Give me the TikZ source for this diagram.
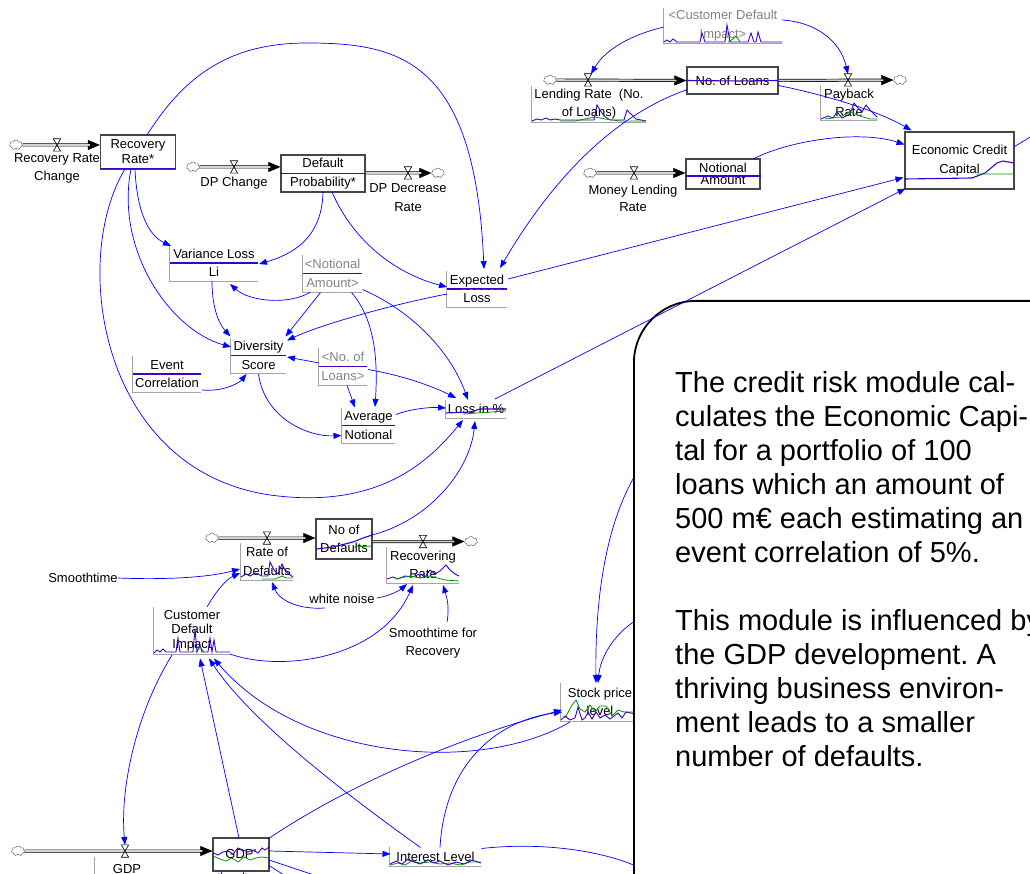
\documentclass[tikz,border=0pt]{standalone}
\usepackage{fontspec}
\setmainfont{Liberation Sans}
\usetikzlibrary{arrows.meta,calc,shapes.symbols}
\definecolor{lk}{RGB}{0,0,255}
\definecolor{gp}{RGB}{60,0,200}
\definecolor{gg}{RGB}{0,150,0}
\definecolor{fr}{RGB}{165,165,165}
\definecolor{sb}{RGB}{70,70,70}
\definecolor{shd}{RGB}{130,130,130}
\frenchspacing
\newcommand\auxv[7][]{%
  \node[auxn,minimum width=#5pt,minimum height=#6pt,#1] (#2) at (#3,#4) {#7};
  \draw[frm] (#2.north west)--(#2.south west)--(#2.south east);}
\newcommand\valv[3]{%
  \node[inner sep=0pt,minimum width=7pt,minimum height=12pt] (#1) at (#2,#3) {};
  \draw[line width=0.6pt] (#1.north west)--(#1.north east)--(#1.south west)--(#1.south east)--cycle;}
\newcommand\pipeto[2]{%
  \draw[line width=0.6pt,-{Triangle[length=12pt,width=10pt]}] (#1) -- (#2);
  \draw[pipeln,shorten >=10pt] (#1) -- (#2);}
\begin{document}
\begin{tikzpicture}[x=1pt,y=-1pt,font=\fontsize{13}{18.5}\selectfont,
 lnk/.style={draw=lk,line width=0.7pt,-{Triangle[length=8pt,width=6pt]}},
 stk/.style={draw=sb,line width=1.3pt,fill=white,inner sep=0pt,align=center},
 auxn/.style={inner sep=0pt,align=center},
 frm/.style={draw=fr,line width=1.2pt},
 gpl/.style={draw=gp,line width=1.1pt},
 ggl/.style={draw=gg,line width=0.8pt},
 pipeln/.style={draw=black,line width=0.7pt,double=gray!35,double distance=1.6pt},
 cloudn/.style={cloud,cloud puffs=7,draw=black!70,fill=white,inner sep=0pt,minimum width=13pt,minimum height=10pt},
 lbl/.style={inner sep=0pt,align=center},
 shdw/.style={text=shd},
 notetxt/.style={anchor=base west,inner sep=0pt,font=\fontsize{29}{34}\selectfont}]
\useasboundingbox (0,0) rectangle (1030,874);

% ---------- stocks ----------
\node[stk,minimum width=75pt,minimum height=34pt,font=\fontsize{13}{15}\selectfont] (rr) at (138,152) {Recovery\\Rate*};
\node[stk,minimum width=84pt,minimum height=37pt] (dp) at (323,173.5) {Default\\Probability*};
\node[stk,minimum width=91pt,minimum height=27pt] (nl) at (732.5,80.5) {No. of Loans};
\node[stk,minimum width=74pt,minimum height=30pt,font=\fontsize{13}{12}\selectfont] (na) at (723,174) {Notional\\Amount};
\node[stk,minimum width=109pt,minimum height=57pt,font=\fontsize{13}{19}\selectfont] (ecc) at (959.5,160.5) {Economic Credit\\Capital};
\node[stk,minimum width=56pt,minimum height=40pt,font=\fontsize{13}{18}\selectfont] (nd) at (344,539) {No of\\Defaults};
\node[stk,minimum width=56pt,minimum height=33pt] (gdp) at (241,854.5) {GDP'};

% ---------- auxiliaries ----------
\auxv{vl}{214}{263}{88}{36}{Variance Loss\\Li}
\auxv[shdw]{na2}{332.5}{273.5}{59}{37}{<Notional\\Amount>}
\auxv{el}{477}{289}{60}{36}{Expected\\Loss}
\auxv{ds}{258.5}{355.5}{55}{35}{Diversity\\Score}
\auxv{ec}{167}{374}{68}{36}{Event\\Correlation}
\auxv[shdw]{nl2}{343}{366.5}{48}{37}{<No. of\\Loans>}
\auxv{an}{368.5}{425.5}{53}{35}{Average\\Notional}
\auxv{lp}{476}{409}{60}{18}{Loss in \%}
\foreach \n in {vl,na2,el,ds,ec,nl2,an} \draw[gpl] (\n.west)--(\n.east);

\auxv[shdw]{cdi2}{723}{25.5}{118}{35}{<Customer Default\\Impact>}
\auxv{lrl}{589}{104}{114}{36}{Lending Rate\ \ (No.\\of Loans)}
\auxv{prl}{849}{103}{56}{34}{Payback\\Rate}
\auxv{rod}{267}{561.5}{52}{37}{Rate of\\Defaults}
\auxv{rec}{423}{565}{72}{36}{Recovering\\Rate}
\auxv[font=\fontsize{13}{14.5}\selectfont]{cdi}{192}{630.5}{76}{47}{Customer\\Default\\Impact}
\auxv{sp}{600}{702}{79}{38}{Stock price\\level}
\auxv{il}{435.5}{856.5}{91}{19}{Interest Level}
\auxv{gdpl}{127}{869}{64}{24}{GDP}

% ---------- labels ----------
\node[lbl] (lb1) at (57,168.5) {Recovery Rate\\Change};
\node[lbl] (lb2) at (234,183) {DP Change};
\node[lbl] (lb3) at (408,197.5) {DP Decrease\\Rate};
\node[lbl,font=\fontsize{13}{17}\selectfont] (lb4) at (633,198.5) {Money Lending\\Rate};
\node[lbl] (smt) at (83,578) {Smoothtime};
\node[lbl] (wn) at (342,599) {white noise};
\node[lbl] (str) at (433,643) {Smoothtime for\\Recovery};

% ---------- clouds & pipes ----------
\node[cloudn] (c1) at (16,145) {};
\node[cloudn] (c2) at (193,167) {};
\node[cloudn] (c3) at (438,173) {};
\node[cloudn] (c4) at (550,80) {};
\node[cloudn] (c5) at (900,80) {};
\node[cloudn] (c6) at (590,173) {};
\node[cloudn] (c7) at (212,538) {};
\node[cloudn] (c8) at (471,541.5) {};
\node[cloudn] (c9) at (18,851) {};
\pipeto{c1}{$(rr.west)+(0,-7)$}
\pipeto{c2}{$(dp.west)+(0,-6.5)$}
\pipeto{$(dp.east)+(0,-0.5)$}{c3}
\pipeto{c4}{nl.west}
\pipeto{nl.east}{c5}
\pipeto{c6}{$(na.west)+(0,-1)$}
\pipeto{c7}{$(nd.west)+(0,-1)$}
\pipeto{$(nd.east)+(0,2.5)$}{c8}
\pipeto{c9}{$(gdp.west)+(0,-3.5)$}
\valv{v1}{57}{145}
\valv{v2}{234}{167}
\valv{v3}{408}{173}
\valv{v4}{588}{80}
\valv{v5}{848}{80}
\valv{v6}{634}{173}
\valv{v7}{267}{538}
\valv{v8}{423}{541.5}
\valv{v9}{125}{851}

% ---------- graphs inside variables ----------
\draw[gpl] ($(rr.south west)+(1,-1.5)$) -- ($(rr.south east)+(-1,-1.5)$);
\draw[gpl] (dp.west) -- (dp.east);
\draw[gpl] (nl.west) -- (740,81) -- (nl.east);
\draw[gpl] ($(na.west)+(0,2)$) -- ($(na.east)+(0,2)$);
\draw[gpl] (905,179) -- (972,178) -- (985,173) -- (997,163) -- (1003,161) -- (1014,163);
\draw[ggl] (977,177) -- (978,174) -- (1014,174);
\draw[gpl] (316,549) -- (333,547) -- (353,542) -- (363,538) -- (372,535);
\draw[ggl] (353,547) -- (372,546);
\draw[ggl,dash pattern=on 4pt off 3pt] (462,289) -- (505,289);
\draw[gpl] (446,413) -- (470,412) -- (480,409) -- (506,409);
\draw[ggl] (463,414) -- (506,411);
\draw[gpl,line width=0.9pt] (664,42)--(667,40)--(670,42)--(673,39)--(677,42)--(700,42)--(702,33)--(705,42)--(725,42)--(727,25)--(730,42)--(748,42)--(751,33)--(754,42)--(756,42)--(758,32)--(761,42)--(782,42);
\draw[ggl] (728,42)--(733,39)--(736,36)--(740,42);
\draw[gpl,line width=0.9pt] (532,121)--(537,119)--(541,120)--(546,118)--(550,120)--(555,119)--(560,120)--(594,120)--(597,105)--(600,110)--(604,116)--(610,120)--(624,120)--(627,110)--(631,114)--(636,119)--(646,121);
\draw[ggl] (560,121)--(575,121)--(585,119)--(595,117)--(605,119)--(620,121)--(646,121);
\draw[gpl,line width=0.9pt] (821,119)--(828,116)--(833,118)--(837,112)--(842,118)--(850,114)--(854,103)--(858,108)--(862,112)--(866,105)--(870,110)--(877,117);
\draw[ggl] (825,119)--(840,117)--(850,112)--(860,116)--(870,119)--(877,119);
\draw[gpl,line width=0.9pt] (241,577)--(246,574)--(250,576)--(255,573)--(262,576)--(268,576)--(270,562)--(274,570)--(278,574)--(282,564)--(286,572)--(293,577);
\draw[ggl] (262,579)--(275,579)--(282,576)--(286,578)--(293,578);
\draw[gpl,line width=0.9pt] (387,579)--(393,577)--(398,579)--(405,576)--(412,577)--(420,574)--(425,577)--(430,570)--(435,574)--(440,571)--(446,565)--(450,570)--(455,574)--(459,576);
\draw[ggl] (395,579)--(410,576)--(420,578)--(430,576)--(445,580)--(459,581);
\draw[gpl,line width=0.9pt] (154,653)--(157,650)--(160,652)--(163,649)--(166,652)--(176,652)--(178,638)--(180,652)--(193,652)--(195,629)--(197,652)--(200,645)--(202,652)--(208,652)--(210,638)--(212,652)--(214,640)--(216,652)--(230,652);
\draw[ggl] (196,652)--(200,647)--(204,652);
\draw[ggl] (565,718)--(572,705)--(576,700)--(580,709)--(585,712)--(590,705)--(595,712)--(600,706)--(606,706)--(612,716)--(618,710)--(624,712)--(640,712);
\draw[gpl,line width=0.9pt] (561,720)--(565,716)--(570,720)--(575,718)--(578,707)--(582,720)--(585,718)--(588,712)--(592,719)--(596,712)--(600,718)--(605,715)--(610,719)--(618,713)--(622,718)--(626,712)--(640,715);
\draw[ggl] (390,865)--(398,863)--(405,865)--(412,861)--(420,863)--(430,862)--(440,864)--(450,863)--(460,865)--(470,862)--(481,862);
\draw[gpl,line width=0.9pt] (390,864)--(396,861)--(402,864)--(408,859)--(414,862)--(420,864)--(428,860)--(434,863)--(440,861)--(448,865)--(456,862)--(464,864)--(472,860)--(481,863);
\draw[ggl] (213,856)--(220,859)--(226,861)--(232,858)--(238,862)--(244,857)--(250,860)--(256,858)--(262,857)--(269,858);
\draw[gpl,line width=0.9pt] (213,853)--(218,855)--(223,852)--(228,851)--(233,854)--(238,848)--(243,850)--(248,852)--(253,850)--(258,853)--(262,848)--(265,850)--(269,847);

% ---------- links ----------
\draw[lnk] ($(rr)+(9,-17)$) .. controls (185,75) and (230,43) .. (307,43) .. controls (400,43) and (475,60) .. ($(el)+(7,-20)$);
\draw[lnk] ($(rr)+(-3,17)$) .. controls (137,215) and (150,236) .. ($(vl)+(-43,-17)$);
\draw[lnk] ($(rr)+(-7,17)$) .. controls (115,250) and (170,330) .. ($(ds)+(-27.5,-8.5)$);
\draw[lnk] ($(rr)+(-13,17)$) .. controls (70,260) and (100,470) .. (270,495) .. controls (380,510) and (430,460) .. ($(lp)+(-13,11)$);
\draw[lnk] ($(dp)+(0,18.5)$) .. controls (322,240) and (290,255) .. ($(vl)+(45,1)$);
\draw[lnk] ($(dp)+(9,18.5)$) .. controls (355,245) and (400,275) .. ($(el)+(-30,-2)$);
\draw[lnk] ($(na2)+(-22,18.5)$) .. controls (290,305) and (250,302) .. ($(vl)+(16,21)$);
\draw[lnk] ($(na2)+(-12,19)$) -- ($(ds)+(27,-19)$);
\draw[lnk] ($(na2)+(19,19)$) .. controls (375,320) and (378,360) .. ($(an)+(6.5,-18.5)$);
\draw[lnk] ($(na2)+(30,16)$) .. controls (410,310) and (450,350) .. ($(lp)+(-8,-9)$);
\draw[lnk] ($(vl)+(-2,18)$) .. controls (212,310) and (220,325) .. ($(ds)+(-28,-19)$);
\draw[lnk] ($(el)+(-30,5)$) .. controls (390,305) and (320,325) .. ($(ds)+(28.5,-15)$);
\draw[lnk] ($(ec)+(35,16)$) .. controls (225,392) and (240,382) .. ($(ds)+(-12,18.5)$);
\draw[lnk] ($(nl2)+(-24,-3.5)$) -- ($(ds)+(28.5,1.5)$);
\draw[lnk] ($(nl2)+(25,3)$) .. controls (400,375) and (430,385) .. ($(lp)+(-20,-11)$);
\draw[lnk] ($(nl2)+(4,19)$) -- ($(an)+(-13.5,-18)$);
\draw[lnk] ($(ds)+(0,18.5)$) .. controls (265,420) and (310,437) .. ($(an)+(-27,10)$);
\draw[lnk] ($(an)+(27.5,-11)$) .. controls (410,409) and (430,407) .. ($(lp)+(-30,-1)$);
\draw[lnk] ($(el)+(31,-10)$) -- ($(ecc)+(-56,17)$);
\draw[lnk] ($(na)+(30,-15)$) .. controls (790,140) and (860,130) .. ($(ecc)+(-55,-16)$);
\draw[lnk] ($(nl)+(46,5)$) .. controls (830,96) and (880,112) .. ($(ecc)+(-48,-30)$);
\draw[lnk] ($(nl)+(-45,9)$) .. controls (600,120) and (540,200) .. ($(el)+(23,-21)$);
\coordinate (off1) at (1045,128);
\draw[lnk] ($(ecc)+(55,-14)$) -- (off1);
\draw[lnk] ($(cdi2)+(-59,1.5)$) .. controls (630,35) and (605,50) .. ($(v4)+(3,-6)$);
\draw[lnk] ($(cdi2)+(59,-5.5)$) .. controls (815,22) and (840,40) .. ($(v5)+(0,-6)$);
\draw[lnk] ($(nd)+(28,-4)$) .. controls (430,520) and (470,470) .. ($(lp)+(-1,12)$);
\draw[lnk] (smt.east) .. controls (170,580) and (210,577) .. ($(rod)+(-27,7.5)$);
\draw[lnk] ($(cdi)+(15,-23.5)$) .. controls (215,593) and (225,580) .. ($(rod)+(-27,11.5)$);
\draw[lnk] ($(wn)+(-17,9)$) .. controls (295,610) and (278,598) .. ($(rod)+(5,20.5)$);
\draw[lnk] ($(wn)+(35,-1)$) .. controls (390,596) and (400,590) .. ($(rec)+(-16,19)$);
\draw[lnk] ($(str)+(14,-21)$) .. controls (450,605) and (446,595) .. ($(rec)+(20,20)$);
\draw[lnk] ($(cdi)+(38,23.5)$) .. controls (280,672) and (380,660) .. ($(rec)+(-10,20)$);
\draw[lnk] ($(cdi)+(-20,24.5)$) .. controls (135,715) and (120,790) .. ($(v9)+(0,-6)$);
\draw[lnk] ($(gdp)+(-2,-16.5)$) -- ($(cdi)+(8,28)$);
\draw[lnk] ($(il)+(-15,-9)$) .. controls (340,790) and (250,720) .. ($(cdi)+(17,28)$);
\draw[lnk] ($(sp)+(-30,20)$) .. controls (480,775) and (300,760) .. ($(cdi)+(22,28)$);
\draw[lnk] ($(gdp)+(27,-15.5)$) .. controls (340,790) and (450,740) .. ($(sp)+(-38,8)$);
\draw[lnk] ($(il)+(4.5,-9)$) .. controls (445,760) and (500,720) .. ($(sp)+(-38,10)$);
\draw[lnk] ($(gdp)+(28,-3.5)$) -- ($(il)+(-45,-2.5)$);
\coordinate (off2) at (645,870);
\coordinate (off3) at (335,882);
\coordinate (off4) at (295,882);
\coordinate (off5) at (219,882);
\coordinate (off6) at (245,882);
\coordinate (off7) at (645,460);
\coordinate (off8) at (645,615);
\draw[lnk] ($(il)+(46,-8)$) .. controls (540,842) and (600,850) .. (off2);
\draw[lnk] ($(gdp)+(28,5.5)$) -- (off3);
\draw[lnk] ($(gdp)+(28,11)$) -- (off4);
\draw[lnk] ($(gdp)+(-19,16.5)$) -- (off5);
\draw[lnk] ($(gdp)+(2,16.5)$) -- (off6);
\draw[lnk] (off7) .. controls (605,515) and (595,600) .. ($(sp)+(-4,-19)$);
\draw[lnk] (off8) .. controls (612,632) and (600,660) .. ($(sp)+(-2,-19)$);

% ---------- note ----------
\node[draw=black,line width=1.8pt,fill=white,rounded corners=62pt,minimum width=560pt,minimum height=700pt,anchor=north west,inner sep=0pt] (note) at (633,300) {};
\draw[lnk] ($(lp)+(19,-10)$) -- ($(ecc)+(-54,28)$);
\node[notetxt] (t1) at (675,392) {The credit risk module cal-};
\node[notetxt] (t2) at (675,426) {culates the Economic Capi-};
\node[notetxt] (t3) at (675,460) {tal for a portfolio of 100};
\node[notetxt] (t4) at (675,494) {loans which an amount of};
\node[notetxt] (t5) at (675,528) {500 m€ each estimating an};
\node[notetxt] (t6) at (675,562) {event correlation of 5\%.};
\node[notetxt] (t7) at (675,630) {This module is influenced by};
\node[notetxt] (t8) at (675,664) {the GDP development. A};
\node[notetxt] (t9) at (675,698) {thriving business environ-};
\node[notetxt] (t10) at (675,732) {ment leads to a smaller};
\node[notetxt] (t11) at (675,766) {number of defaults.};
\end{tikzpicture}
\end{document}
